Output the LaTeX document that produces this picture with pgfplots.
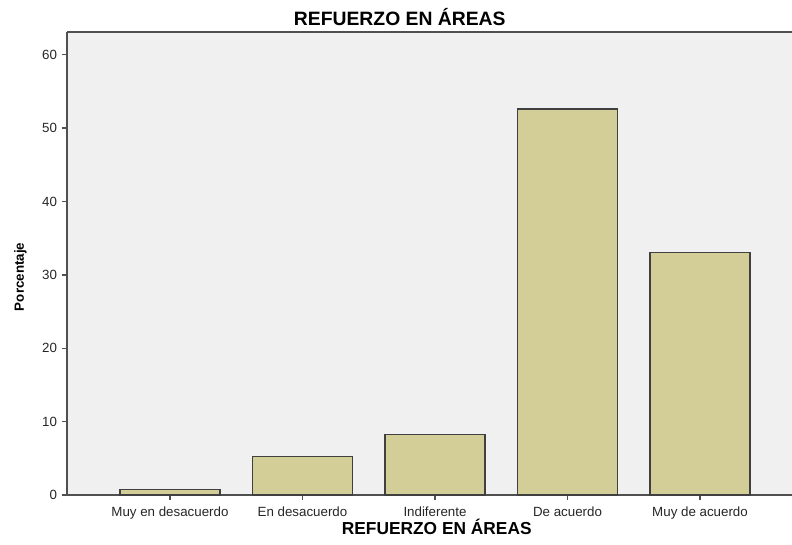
\documentclass[border=0pt]{standalone}
\usepackage{pgfplots}
\pgfplotsset{compat=1.18}
\usepackage{fontspec}
\setmainfont{Liberation Sans}
\definecolor{barfill}{RGB}{211,206,151}
\definecolor{bgc}{RGB}{240,240,240}
\definecolor{axc}{RGB}{80,80,80}
\begin{document}
\begin{tikzpicture}
\begin{axis}[
  at={(50.25pt,36.75pt)}, anchor=south west,
  scale only axis, width=543.75pt, height=347.25pt,
  xmin=-0.777, xmax=4.694, ymin=0, ymax=63.1,
  axis x line*=bottom, axis y line*=left,
  axis line style={-, axc, line width=1.1pt},
  axis background/.style={fill=bgc},
  ytick={0,10,20,30,40,50,60},
  xtick={0,1,2,3,4},
  xticklabels={Muy en desacuerdo, En desacuerdo, Indiferente, De acuerdo, Muy de acuerdo},
  tick align=outside, major tick length=4pt,
  tick style={axc, line width=1.1pt},
  /pgf/number format/assume math mode=true,
  tick label style={font=\fontsize{10}{12}\selectfont, text=black!85},
  xticklabel style={yshift=-1pt},
  title={REFUERZO EN ÁREAS},
  title style={at={(rel axis cs:0.459,1)}, anchor=center, yshift=5.5pt, font=\bfseries\fontsize{14.5}{17}\selectfont},
  xlabel={REFUERZO EN ÁREAS},
  xlabel style={at={(rel axis cs:0.51,0)}, anchor=center, yshift=-24pt, font=\bfseries\fontsize{13}{15}\selectfont},
  ylabel={Porcentaje},
  ylabel style={at={(rel axis cs:-0.0644,0.471)}, anchor=center, font=\bfseries\fontsize{10}{12}\selectfont},
  ybar, bar width=75pt,
]
\addplot[ybar, fill=barfill, draw=black!75, line width=0.9pt] coordinates {(0,0.8) (1,5.2) (2,8.3) (3,52.6) (4,33.0)};
\draw[axc, line width=1.1pt] (rel axis cs:0,1) -- (rel axis cs:1,1);
\end{axis}
\pgfresetboundingbox
\path[use as bounding box] (0,0) rectangle (594pt,408pt);
\end{tikzpicture}
\end{document}
